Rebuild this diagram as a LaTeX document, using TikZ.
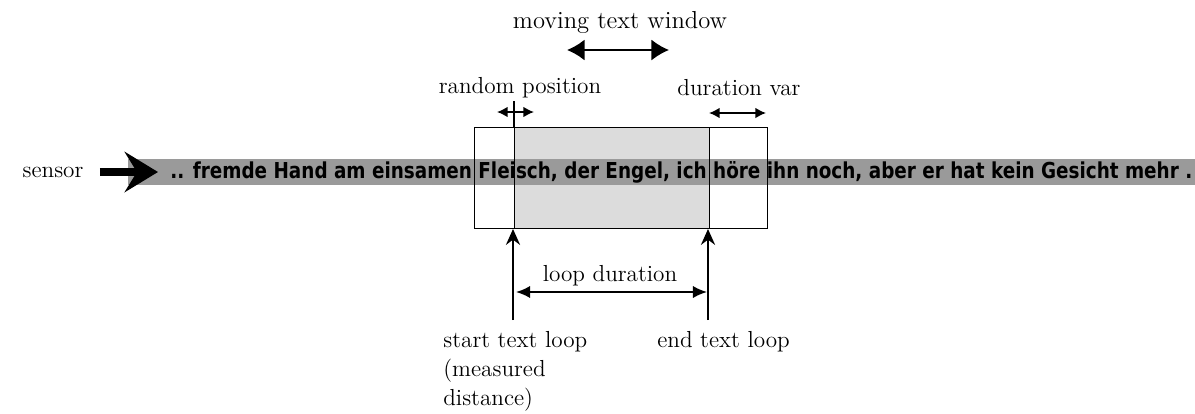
\documentclass[tikz,border=0pt]{standalone}
\usepackage{fontspec}
\usepackage{graphicx}
\usetikzlibrary{arrows.meta}
\newfontfamily\bandfont{DejaVu Sans}
\definecolor{bandgray}{HTML}{9A9A9A}
\definecolor{wingray}{HTML}{DCDCDC}

\begin{document}
\begin{tikzpicture}[x=0.02cm,y=-0.02cm,
    lbl/.style={font=\fontsize{13.2}{16.5}\selectfont,inner sep=0pt},
    wide/.style={line width=1.1pt,{Latex[length=10pt,width=12pt]}-{Latex[length=10pt,width=12pt]}},
    span/.style={line width=1.1pt,{Latex[length=8pt,width=7pt]}-{Latex[length=8pt,width=7pt]}},
    small/.style={line width=0.9pt,{Latex[length=6pt,width=6pt]}-{Latex[length=6pt,width=6pt]}},
    up/.style={line width=1.3pt,-{Stealth[length=9pt,width=8pt]}},
    frame/.style={line width=0.45pt}]
    \useasboundingbox (0,0) rectangle (1195,413);

    % window and text band
    \fill[wingray] (514,127) rectangle (709,228);
    \fill[bandgray] (128,159) rectangle (1195,185);
    \draw[frame] (474,127) rectangle (767,228);
    \draw[frame] (514,127) -- (514,228);
    \draw[frame] (709,127) -- (709,228);
    \node[anchor=west,inner sep=0pt] (txt) at (170,172)
        {\resizebox{20.44cm}{\height}{\bandfont\bfseries\fontsize{12.5}{13}\selectfont
        .. fremde Hand am einsamen Fleisch, der Engel, ich höre ihn noch, aber er hat kein Gesicht mehr .}};

    % sensor
    \node[lbl] (sensor) at (53,172) {sensor};
    \coordinate (sensorEnd) at (158,172);
    \draw[line width=4pt,-{Stealth[length=19pt,width=23pt,inset=7pt]}] (sensor.east) ++(16,0) -- (sensorEnd);

    % labels on top
    \node[lbl,font=\fontsize{14}{17}\selectfont] (moving) at (620,22) {moving text window};
    \coordinate (mwL) at (567,50);
    \coordinate (mwR) at (669,50);
    \draw[wide] (mwL) -- (mwR);

    \node[lbl] (random) at (520,88) {random position};
    \coordinate (tickTop) at (514,101);
    \coordinate (tickBot) at (514,127);
    \draw[line width=0.9pt] (tickTop) -- (tickBot);
    \coordinate (rpL) at (497,112);
    \coordinate (rpR) at (534,112);
    \draw[small] (rpL) -- (rpR);

    \node[lbl] (durvar) at (739,88) {duration var};
    \coordinate (dvL) at (709,113);
    \coordinate (dvR) at (766,113);
    \draw[small] (dvL) -- (dvR);

    % loop markers below
    \coordinate (startBot) at (513,320);
    \coordinate (startTop) at (513,229);
    \coordinate (endBot) at (708,320);
    \coordinate (endTop) at (708,229);
    \draw[up] (startBot) -- (startTop);
    \draw[up] (endBot) -- (endTop);

    \node[lbl] (loopdur) at (610,276) {loop duration};
    \coordinate (ldL) at (516,292);
    \coordinate (ldR) at (707,292);
    \draw[span] (ldL) -- (ldR);

    \node[lbl,anchor=north west,align=left] (start) at (443,331)
        {start text loop\\(measured\\distance)};
    \node[lbl,anchor=west] (endloop) at (657,342) {end text loop};
\end{tikzpicture}
\end{document}
